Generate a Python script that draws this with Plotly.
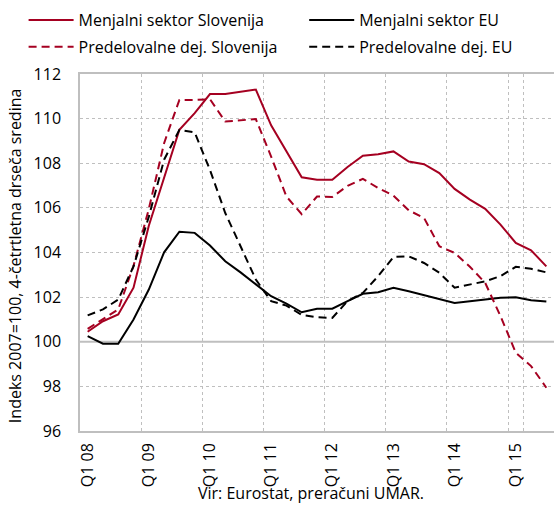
import plotly.graph_objects as go

quarters = ["Q1 08","Q2 08","Q3 08","Q4 08","Q1 09","Q2 09","Q3 09","Q4 09",
            "Q1 10","Q2 10","Q3 10","Q4 10","Q1 11","Q2 11","Q3 11","Q4 11",
            "Q1 12","Q2 12","Q3 12","Q4 12","Q1 13","Q2 13","Q3 13","Q4 13",
            "Q1 14","Q2 14","Q3 14","Q4 14","Q1 15","Q2 15","Q3 15"]
tick_labels = ["Q1 08","Q1 09","Q1 10","Q1 11","Q1 12","Q1 13","Q1 14","Q1 15"]

menjalni_slo = [100.45,100.92,101.22,102.42,105.2,107.34,109.5,110.25,
                111.1,111.1,111.2,111.3,109.7,108.53,107.37,107.26,
                107.26,107.83,108.34,108.4,108.53,108.08,107.96,107.56,
                106.85,106.37,105.96,105.25,104.43,104.1,103.38]
menjalni_eu = [100.25,99.91,99.91,101.0,102.34,104.01,104.93,104.88,
               104.31,103.61,103.11,102.56,102.04,101.71,101.32,101.48,
               101.48,101.82,102.15,102.22,102.42,102.26,102.09,101.89,
               101.74,101.82,101.89,101.97,101.99,101.86,101.80]
predel_slo = [100.58,101.03,101.45,103.4,105.95,108.9,110.84,110.84,
              110.87,109.87,109.92,109.98,108.3,106.51,105.72,106.51,
              106.49,106.99,107.3,106.89,106.55,105.89,105.55,104.28,
              103.98,103.36,102.64,101.15,99.51,98.91,97.94]
predel_eu = [101.18,101.45,101.89,103.38,105.6,108.16,109.5,109.38,
             107.7,105.77,104.28,102.79,101.82,101.62,101.2,101.1,
             101.07,101.82,102.19,102.94,103.8,103.83,103.53,103.09,
             102.42,102.56,102.71,102.94,103.36,103.27,103.11]

RED = "#A50021"
BLACK = "#000000"
FONT = "Open Sans"
GRID = "#BFBFBF"
FS = 16

fig = go.Figure()
fig.add_trace(go.Scatter(x=quarters, y=menjalni_slo, mode="lines", name="Menjalni sektor Slovenija",
                         line=dict(color=RED, width=2), legend="legend", legendgroup="a"))
fig.add_trace(go.Scatter(x=quarters, y=menjalni_eu, mode="lines", name="Menjalni sektor EU",
                         line=dict(color=BLACK, width=2), legend="legend2", legendgroup="b"))
fig.add_trace(go.Scatter(x=quarters, y=predel_slo, mode="lines", name="Predelovalne dej. Slovenija",
                         line=dict(color=RED, width=2, dash="8px,5px"), legend="legend", legendgroup="c"))
fig.add_trace(go.Scatter(x=quarters, y=predel_eu, mode="lines", name="Predelovalne dej. EU",
                         line=dict(color=BLACK, width=2, dash="8px,5px"), legend="legend2", legendgroup="d"))

fig.add_shape(type="line", xref="paper", x0=0, x1=1, yref="y", y0=100, y1=100,
              line=dict(color=GRID, width=2), layer="below")

leg_common = dict(orientation="v", yref="container", y=0.994, yanchor="top",
                  xanchor="left", font=dict(size=FS), tracegroupgap=3, itemwidth=45,
                  bgcolor="rgba(0,0,0,0)")

fig.update_layout(
    width=554, height=507,
    margin=dict(l=80, r=0, t=74, b=76, autoexpand=False),
    plot_bgcolor="white", paper_bgcolor="white",
    font=dict(family=FONT, size=FS, color="#000000"),
    showlegend=True,
    legend=dict(x=-0.119, **leg_common),
    legend2=dict(x=0.473, **leg_common),
    xaxis=dict(
        type="category", categoryorder="array", categoryarray=quarters,
        range=[-0.5, len(quarters) - 0.5],
        tickmode="array", tickvals=tick_labels, ticktext=tick_labels,
        tickangle=-90, tickson="boundaries", ticks="",
        showgrid=True, gridcolor=GRID, griddash="dot", gridwidth=1,
        showline=True, linecolor=GRID, linewidth=1.5, mirror=True,
        tickfont=dict(size=FS), ticklabelstandoff=4, automargin=False,
    ),
    yaxis=dict(
        range=[96, 112], tickvals=[96, 98, 100, 102, 104, 106, 108, 110, 112],
        showgrid=True, gridcolor=GRID, griddash="dot", gridwidth=1,
        showline=True, linecolor=GRID, linewidth=1.5,
        ticks="", ticklabelstandoff=14, tickfont=dict(size=FS), zeroline=False,
        automargin=False,
    ),
    annotations=[
        dict(text="Vir: Eurostat, preračuni UMAR.", xref="paper", yref="paper",
             x=0.487, y=-0.174, xanchor="center", yanchor="middle", showarrow=False,
             font=dict(size=FS)),
        dict(text="Indeks 2007=100, 4-četrtletna drseča sredina", xref="paper", yref="paper",
             x=-0.137, y=0.49, xanchor="center", yanchor="middle", textangle=-90,
             showarrow=False, font=dict(size=FS)),
    ],
)

fig.write_html("out.html", config={"displayModeBar": False},
               post_script="document.body.style.margin='0';document.body.style.overflow='hidden';")
